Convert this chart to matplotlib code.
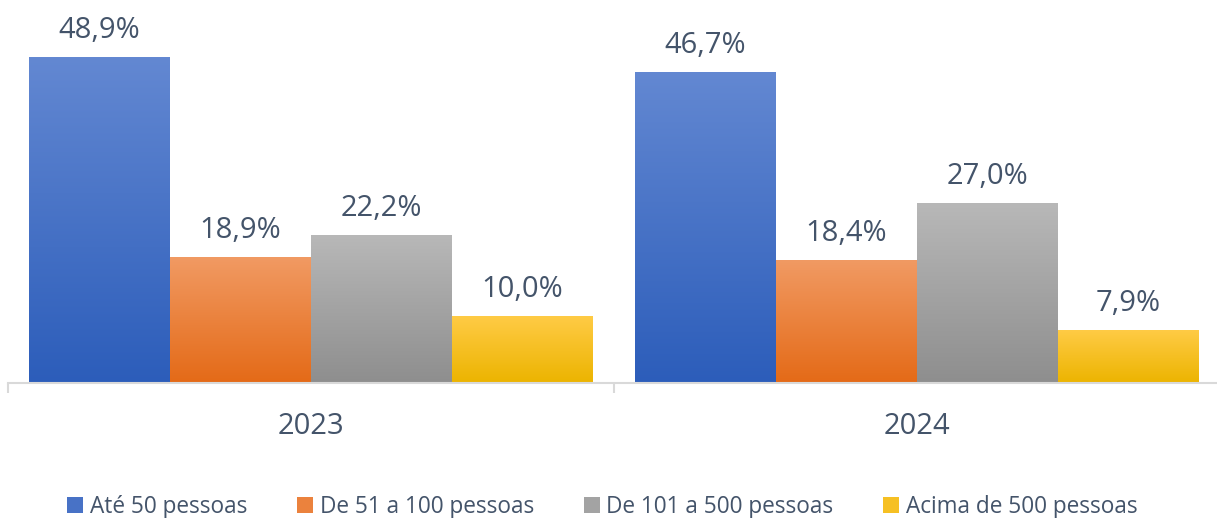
import numpy as np
import matplotlib.pyplot as plt
from matplotlib.colors import LinearSegmentedColormap, to_rgb
from matplotlib.patches import Patch

# dados
anos = ['2023', '2024']
faixas = ['Até 50 pessoas', 'De 51 a 100 pessoas', 'De 101 a 500 pessoas', 'Acima de 500 pessoas']
valores = [
    [48.9, 46.7],  # Até 50
    [18.9, 18.4],  # 51 a 100
    [22.2, 27.0],  # 101 a 500
    [10.0, 7.9],   # acima de 500
]
rotulos = [
    ['48,9%', '46,7%'],
    ['18,9%', '18,4%'],
    ['22,2%', '27,0%'],
    ['10,0%', '7,9%'],
]

# cores (topo, base) do degradê
cores = [
    ('#6388D2', '#2C5DBA'),
    ('#F19A63', '#E46A17'),
    ('#B8B8B8', '#8E8E8E'),
    ('#FFCB45', '#ECB400'),
]
cor_texto = '#44546A'

plt.rcParams['font.family'] = ['Open Sans', 'DejaVu Sans']

fig = plt.figure(figsize=(12.17, 5.18), dpi=100)
ax = fig.add_axes([8 / 1217, 135 / 518, 1212 / 1217, 383 / 518])

x = np.arange(len(anos))
largura = 141 / 606
for i, (vals, (c_top, c_bot)) in enumerate(zip(valores, cores)):
    pos = x + (i - 1.5) * largura
    bars = ax.bar(pos, vals, width=largura, color=c_bot, edgecolor='none', zorder=2)
    cmap = LinearSegmentedColormap.from_list('g%d' % i, [c_bot, c_top])
    grad = np.linspace(0, 1, 256).reshape(-1, 1)
    for b, lab in zip(bars, rotulos[i]):
        x0, w, h = b.get_x(), b.get_width(), b.get_height()
        im = ax.imshow(grad, cmap=cmap, origin='lower', aspect='auto',
                       extent=[x0, x0 + w, 0, h], zorder=3)
        im.set_clip_path(b)
        ax.annotate(lab, (x0 + w / 2, h), xytext=(0, 19), textcoords='offset points',
                    ha='center', va='center', fontsize=21, color=cor_texto)

ax.set_xlim(-0.5, 1.5)
ax.set_ylim(0, 57.45)
ax.set_yticks([])
for s in ['top', 'right', 'left']:
    ax.spines[s].set_visible(False)
ax.spines['bottom'].set_color('#D9D9D9')
ax.spines['bottom'].set_linewidth(1.5)
ax.spines['bottom'].set_zorder(4)

ax.set_xticks(x)
ax.set_xticklabels(anos, fontsize=21, color=cor_texto)
ax.tick_params(axis='x', which='major', length=0, pad=21)
ax.set_xticks([-0.5, 0.5, 1.5], minor=True)
ax.tick_params(axis='x', which='minor', length=7, width=1.5, color='#D9D9D9')

handles = [Patch(facecolor=0.5 * (np.array(to_rgb(t)) + np.array(to_rgb(b))),
                 edgecolor='none', label=f) for f, (t, b) in zip(faixas, cores)]
fig.legend(handles=handles, loc='center', bbox_to_anchor=(0.495, 0.022), ncol=4, frameon=False,
           fontsize=16.3, labelcolor=cor_texto, handlelength=0.7, handleheight=0.7,
           handletextpad=0.3, columnspacing=2.2)

plt.savefig('out.png', dpi=100)
